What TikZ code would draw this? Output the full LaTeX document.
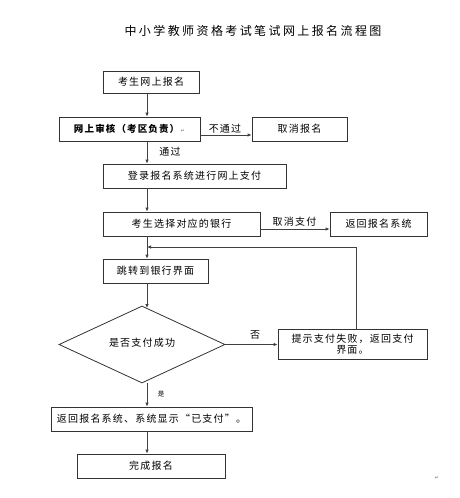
\documentclass[tikz,border=0pt]{standalone}
\usepackage{fontspec}
\setmainfont{Noto Sans CJK SC}[LetterSpace=12]
\newfontfamily\titlefont{Noto Sans CJK SC}[LetterSpace=20]
\newfontfamily\markfont{DejaVu Sans}
\usetikzlibrary{shapes.geometric,arrows.meta}
\tikzset{
  box/.style={draw=black!80, line width=0.8pt, inner sep=1pt, align=center, font=\fontsize{10}{11}\selectfont},
  arr/.style={draw=black!75, line width=0.9pt, -{Latex[length=4pt,width=3.5pt]}},
  lbl/.style={font=\fontsize{10}{11}\selectfont, inner sep=0pt},
  pmark/.style={font=\markfont\fontsize{5}{5}\selectfont, text=black!55, inner sep=0pt}
}
\begin{document}
\begin{tikzpicture}[x=1pt,y=-1pt]
\useasboundingbox[fill=white] (0,0) rectangle (459,498);
\node[font=\titlefont\fontsize{12}{14}\selectfont, inner sep=0pt] (title) at (253,31) {中小学教师资格考试笔试网上报名流程图};

\coordinate (ax) at (147,0);
\node[box, minimum width=96pt, minimum height=22pt] (b1) at (151,82) {考生网上报名};
\node[box, minimum width=141pt, minimum height=24pt, font=\bfseries\fontsize{9.5}{11}\selectfont] (b2) at (129.5,129) {网上审核（考区负责）\,{\markfont\mdseries\fontsize{5}{5}\selectfont\color{black!55}↵}};
\node[box, minimum width=95pt, minimum height=24pt] (b3) at (299.5,129) {取消报名};
\node[box, minimum width=183pt, minimum height=24pt] (b4) at (194.5,176) {登录报名系统进行网上支付};
\node[box, minimum width=157pt, minimum height=24pt] (b5) at (181.5,224) {考生选择对应的银行};
\node[box, minimum width=97pt, minimum height=24pt] (b6) at (378.5,224) {返回报名系统};
\node[box, minimum width=105pt, minimum height=24pt] (b7) at (155.5,271) {跳转到银行界面};
\node[draw=black!80, line width=0.8pt, diamond, shape aspect=2.16, minimum width=166pt, minimum height=77pt, inner sep=0pt, font=\fontsize{10}{11}\selectfont] (d) at (142,344.5) {\raisebox{5pt}{是否支付成功}};
\node[box, minimum width=149pt, minimum height=30pt, font=\fontsize{10}{11}\selectfont] (b8) at (352.5,344) {提示支付失败，返回支付\\界面。};
\node[box, minimum width=201pt, minimum height=24pt] (b9) at (151.5,419) {返回报名系统、系统显示“已支付”。};
\node[box, minimum width=148pt, minimum height=24pt] (b10) at (151,466) {完成报名};

\coordinate (y1) at (0,135);
\coordinate (y2) at (0,229);
\coordinate (lx) at (356,0);
\coordinate (loop) at (147,247);
\coordinate (dtop) at (147,308);

\draw[arr] (b1.south -| ax) -- (b2.north -| ax);
\draw[arr] (b2.east |- y1) -- (b3.west |- y1);
\node[lbl] (l1) at (225,129) {不通过};
\draw[arr] (b2.south -| ax) -- (b4.north -| ax);
\node[lbl] (l2) at (170,152) {通过};
\draw[arr] (b4.south -| ax) -- (b5.north -| ax);
\draw[arr] (b5.east |- y2) -- (b6.west |- y2);
\node[lbl] (l3) at (294.5,222) {取消支付};
\draw[arr] (b5.south -| ax) -- (b7.north -| ax);
\draw[arr] (b8.north -| lx) |- (loop);
\draw[arr] (b7.south -| ax) -- (dtop);
\draw[arr] (d.east) -- (b8.west |- d.east);
\node[lbl] (l4) at (255,335) {否};
\draw[arr] (d.south -| ax) -- (b9.north -| ax);
\node[lbl, font=\fontsize{6.5}{7}\selectfont] (l5) at (161,394) {是};
\draw[arr] (b9.south -| ax) -- (b10.north -| ax);
\node[pmark] (pm) at (437,478) {↵};
\end{tikzpicture}
\end{document}
